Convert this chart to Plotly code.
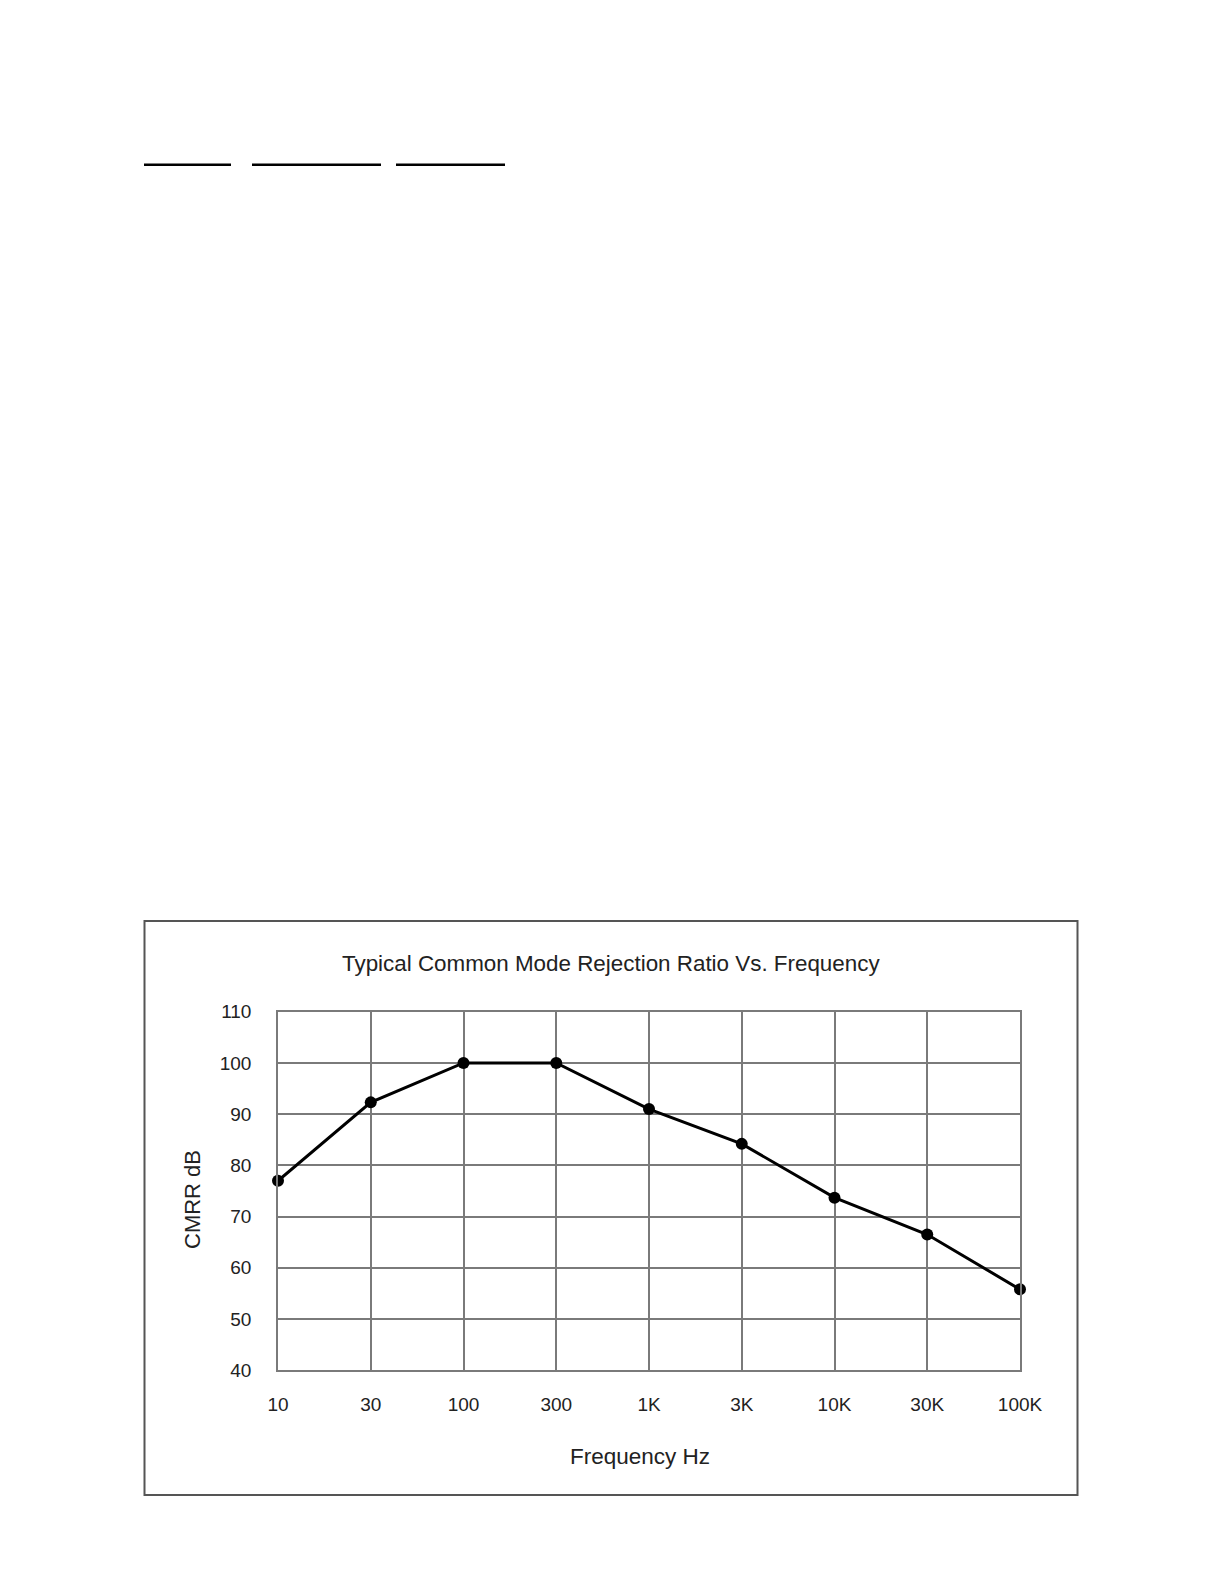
import plotly.graph_objects as go

W, H = 1225, 1585

freq_labels = ["10", "30", "100", "300", "1K", "3K", "10K", "30K", "100K"]
cmrr_db = [77.0, 92.3, 100.0, 100.0, 91.0, 84.2, 73.7, 66.5, 55.8]
y_ticks = [40, 50, 60, 70, 80, 90, 100, 110]

title_text = "Typical Common Mode Rejection Ratio Vs. Frequency"
x_title = "Frequency Hz"
y_title = "CMRR dB"

# pixel layout helpers
def px(x):
    return x / W

def py(y):
    return 1 - y / H

plot_l, plot_r, plot_t, plot_b = 278, 1020, 1011.7, 1370.3

FONT = "Liberation Sans, Arial, Helvetica, sans-serif"

fig = go.Figure()
fig.add_trace(go.Scatter(
    x=freq_labels, y=cmrr_db, mode="lines+markers",
    line=dict(color="black", width=3),
    marker=dict(color="black", size=12),
    cliponaxis=False, showlegend=False,
))

grid_col = "#7a7a7a"
fig.update_layout(
    width=W, height=H,
    margin=dict(l=0, r=0, t=0, b=0),
    paper_bgcolor="white", plot_bgcolor="white",
    font=dict(family=FONT, color="#222", size=19),
    xaxis=dict(
        domain=[px(plot_l), px(plot_r)],
        type="category", range=[0, 8],
        showgrid=True, gridcolor=grid_col, gridwidth=1.5,
        showline=True, linecolor=grid_col, linewidth=1.5, mirror=True,
        ticks="", ticklabelstandoff=16, tickfont=dict(size=19),
        zeroline=False, automargin=False,
    ),
    yaxis=dict(
        domain=[py(plot_b), py(plot_t)],
        range=[40, 110], tickvals=y_ticks,
        showgrid=True, gridcolor=grid_col, gridwidth=1.5,
        showline=True, linecolor=grid_col, linewidth=1.5, mirror=True,
        ticks="", ticklabelstandoff=21, tickfont=dict(size=19),
        zeroline=False, automargin=False,
    ),
    shapes=[
        # outer frame
        dict(type="rect", xref="paper", yref="paper",
             x0=px(144.5), x1=px(1077.5), y0=py(1495), y1=py(921),
             line=dict(color="#555", width=2), fillcolor="rgba(0,0,0,0)"),
        # top underlines
        dict(type="line", xref="paper", yref="paper",
             x0=px(144), x1=px(231), y0=py(164.7), y1=py(164.7),
             line=dict(color="black", width=2.5)),
        dict(type="line", xref="paper", yref="paper",
             x0=px(252), x1=px(381), y0=py(164.7), y1=py(164.7),
             line=dict(color="black", width=2.5)),
        dict(type="line", xref="paper", yref="paper",
             x0=px(396), x1=px(505), y0=py(164.7), y1=py(164.7),
             line=dict(color="black", width=2.5)),
    ],
    annotations=[
        dict(text=title_text, xref="paper", yref="paper",
             x=px(611), y=py(963), xanchor="center", yanchor="middle",
             showarrow=False, font=dict(size=22.4, color="#222")),
        dict(text=x_title, xref="paper", yref="paper",
             x=px(640), y=py(1456), xanchor="center", yanchor="middle",
             showarrow=False, font=dict(size=22.5, color="#222")),
        dict(text=y_title, xref="paper", yref="paper",
             x=px(192), y=py(1200), xanchor="center", yanchor="middle",
             textangle=-90, showarrow=False, font=dict(size=22, color="#222")),
    ],
)

fig.write_html("out.html",
               config={"displayModeBar": False},
               post_script="document.body.style.margin='0';document.body.style.overflow='hidden';")
